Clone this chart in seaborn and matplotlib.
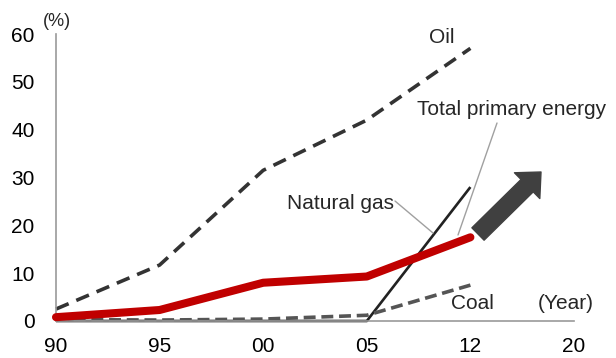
import matplotlib
matplotlib.use("Agg")
import matplotlib.pyplot as plt
import seaborn as sns
import pandas as pd

# Year labels (categorical axis) and share values in %
years = ["90", "95", "00", "05", "12", "20"]
oil = [2.5, 11.7, 31.5, 42.0, 57.0]
total_primary = [0.8, 2.3, 8.0, 9.3, 17.5]
natural_gas = [0.0, 0.0, 0.0, 0.0, 28.0]
coal = [0.3, 0.2, 0.4, 1.2, 7.5]

x_pos = list(range(len(oil)))
df = pd.DataFrame({
    "x": x_pos * 4,
    "value": oil + total_primary + natural_gas + coal,
    "series": (["Oil"] * 5 + ["Total primary energy"] * 5
               + ["Natural gas"] * 5 + ["Coal"] * 5),
})

sns.set_style("white")
plt.rcParams["font.family"] = ["Liberation Sans", "DejaVu Sans"]

fig = plt.figure(figsize=(6.16, 3.58), dpi=100)
ax = fig.add_axes([56 / 616, 1 - 321 / 358, (574 - 56) / 616, (321 - 34) / 358])

styles = {
    "Oil": dict(color="#333333", lw=2.6, dashes=(3.8, 2.3)),
    "Natural gas": dict(color="#222222", lw=1.9, dashes=None),
    "Coal": dict(color="#555555", lw=2.6, dashes=(3.3, 1.6)),
    "Total primary energy": dict(color="#C00000", lw=5.8, dashes=None),
}
for name in ["Oil", "Natural gas", "Coal", "Total primary energy"]:
    st = styles[name]
    sub = df[df["series"] == name]
    sns.lineplot(data=sub, x="x", y="value", ax=ax, color=st["color"],
                 linewidth=st["lw"], legend=False, clip_on=False,
                 zorder=3 if name == "Total primary energy" else 2)
    line = ax.lines[-1]
    line.set_solid_capstyle("round" if name == "Total primary energy" else "butt")
    if st["dashes"] is not None:
        line.set_dashes(st["dashes"])

ax.set_xlim(0, 5)
ax.set_ylim(0, 60)
ax.set_xticks(range(len(years)))
ax.set_xticklabels(years)
ax.set_yticks(range(0, 61, 10))
ax.set_xlabel("")
ax.set_ylabel("")

for side in ["top", "right"]:
    ax.spines[side].set_visible(False)
for side in ["left", "bottom"]:
    ax.spines[side].set_color("#999999")
    ax.spines[side].set_linewidth(1.2)
ax.tick_params(axis="both", which="both", direction="out", length=4.5,
               width=1.2, color="#999999", labelsize=15, labelcolor="black")
ax.tick_params(axis="x", pad=7)
ax.tick_params(axis="y", pad=11)

def px(xp, yp):
    """Convert pixel coordinates of the figure into data coordinates."""
    inv = ax.transData.inverted()
    return inv.transform(fig.transFigure.transform((xp / 616, 1 - yp / 358)))

# Series labels
lab = dict(fontsize=15, ha="center", va="baseline")
ax.text(*px(442, 43), "Oil", **lab)
ax.text(*px(512, 115), "Total primary energy", **lab)
ax.text(*px(340, 209), "Natural gas", **lab)
ax.text(*px(472, 309), "Coal", **lab)
ax.text(*px(566, 309), "(Year)", **lab)
ax.text(*px(57, 21.5), "(%)", fontsize=13, ha="center", va="center", clip_on=False)

# Leader lines
ax.plot(*zip(px(395, 201), px(433, 233)), color="#A0A0A0", lw=1.0, clip_on=False)
ax.plot(*zip(px(497, 123), px(458, 235)), color="#A0A0A0", lw=1.0, clip_on=False)

# Upward trend arrow
ax.annotate("", xy=px(541, 172), xytext=px(478, 234),
            arrowprops=dict(arrowstyle="simple,head_length=1.4,head_width=2.6,tail_width=1.25",
                            color="#404040", shrinkA=0, shrinkB=0, mutation_scale=10),
            annotation_clip=False)

fig.savefig("out.png", dpi=100)
